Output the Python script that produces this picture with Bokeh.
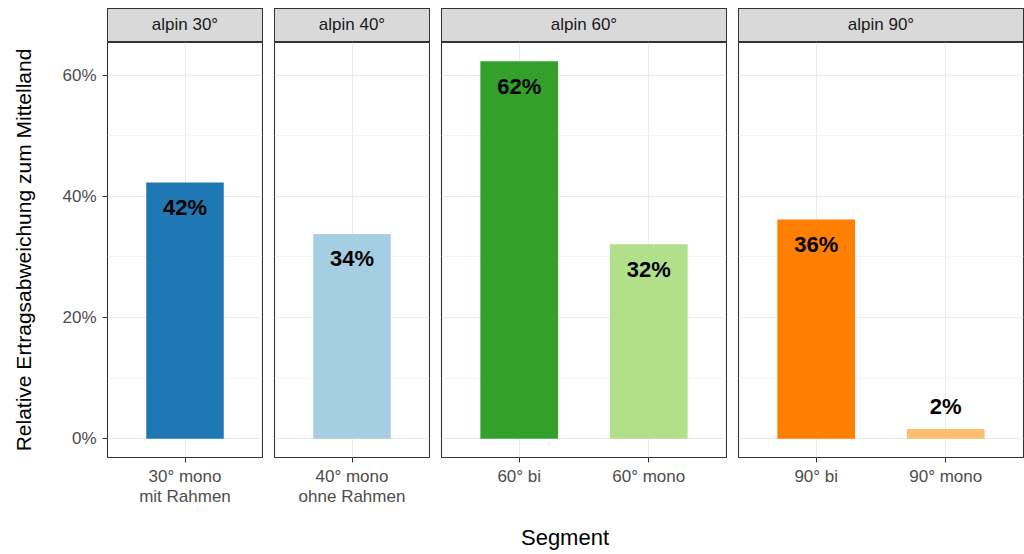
from bokeh.plotting import figure
from bokeh.models import ColumnDataSource, Range1d, FixedTicker, NumeralTickFormatter, Div, FactorRange
from bokeh.layouts import row, column
from bokeh.core.properties import value
from bokeh.embed import file_html
from bokeh.resources import INLINE

# ---- data ----
panels = ["alpin 30°", "alpin 40°", "alpin 60°", "alpin 90°"]
facet = ["alpin 30°", "alpin 40°", "alpin 60°", "alpin 60°", "alpin 90°", "alpin 90°"]
segments = ["30° mono\nmit Rahmen", "40° mono\nohne Rahmen", "60° bi", "60° mono", "90° bi", "90° mono"]
values = [0.423, 0.338, 0.623, 0.321, 0.362, 0.016]
labels = ["42%", "34%", "62%", "32%", "36%", "2%"]
colors = ["#1F78B4", "#A6CEE3", "#33A02C", "#B2DF8A", "#FF7F00", "#FDBF6F"]
y_ticks = [0, 0.2, 0.4, 0.6]
y_minor = [0.1, 0.3, 0.5]

FONT = "Liberation Sans"
UNIT = 129.5
FRAME_H = 415
LEFT = 107

cols = []
for i, name in enumerate(panels):
    idx = [k for k, f in enumerate(facet) if f == name]
    cats = [segments[k] for k in idx]
    vals = [values[k] for k in idx]
    src = ColumnDataSource(dict(
        x=cats, top=vals, label=[labels[k] for k in idx], color=[colors[k] for k in idx],
        off=[25 if v > 0.05 else -23 for v in vals],
    ))
    fw = int(round((len(cats) + 0.2) * UNIT))
    ml = LEFT if i == 0 else 1
    p = figure(x_range=FactorRange(*cats, range_padding=0.1, range_padding_units="absolute"),
               y_range=Range1d(-0.031, 0.654),
               frame_width=fw, frame_height=FRAME_H,
               min_border_left=ml, min_border_right=1, min_border_top=0, min_border_bottom=58,
               output_backend="svg", toolbar_location=None,
               background_fill_color="white", border_fill_color="white")
    p.outline_line_color = "#333333"
    p.outline_line_width = 1.1
    p.outline_line_alpha = 1

    p.vbar(x="x", top="top", bottom=0, width=0.6, fill_color="color", line_color=None, source=src)
    p.text(x="x", y="top", text="label", y_offset="off", source=src,
           text_align="center", text_baseline="middle",
           text_font=value(FONT), text_font_style="bold", text_font_size="22px", text_color="black")

    p.yaxis.ticker = FixedTicker(ticks=y_ticks, minor_ticks=y_minor)
    p.yaxis.formatter = NumeralTickFormatter(format="0%")
    for ax in (p.xaxis, p.yaxis):
        ax.axis_line_color = None
        ax.major_tick_line_color = "#333333"
        ax.major_tick_in = 0
        ax.major_tick_out = 5
        ax.minor_tick_out = 0
        ax.minor_tick_in = 0
        ax.major_label_standoff = 6
        ax.major_label_text_font = FONT
        ax.major_label_text_font_size = "17px"
        ax.major_label_text_color = "#4D4D4D"
    p.xaxis.major_label_standoff = 4
    p.xaxis.major_label_text_line_height = 1.1
    p.xaxis.major_label_orientation = "horizontal"
    if i == 0:
        p.yaxis.axis_label = "Relative Ertragsabweichung zum Mittelland"
        p.yaxis.axis_label_text_font = FONT
        p.yaxis.axis_label_text_font_size = "21px"
        p.yaxis.axis_label_text_font_style = "normal"
        p.yaxis.axis_label_text_color = "black"
        p.yaxis.axis_label_standoff = 24
    else:
        p.yaxis.visible = False

    p.xgrid.grid_line_color = "#EBEBEB"
    p.xgrid.grid_line_width = 1
    p.ygrid.grid_line_color = "#EBEBEB"
    p.ygrid.grid_line_width = 1
    p.ygrid.minor_grid_line_color = "#F3F3F3"
    p.ygrid.minor_grid_line_width = 1

    strip = Div(text=name, width=fw + 1, height=34, margin=(0, 0, 0, ml),
                styles={"background-color": "#D9D9D9", "border": "1px solid #333333",
                        "box-sizing": "border-box", "text-align": "center",
                        "line-height": "32px", "font-family": FONT, "font-size": "17px",
                        "color": "#1A1A1A", "overflow": "hidden"})
    cols.append(column(strip, p, spacing=0))

panel_row = row(*cols, spacing=10)
xtitle = Div(text="Segment", width=902, height=29, margin=(0, 0, 0, 114),
             styles={"text-align": "center", "font-family": FONT, "font-size": "22px",
                     "color": "black", "line-height": "22px", "padding-top": "12px",
                     "box-sizing": "border-box"})
layout = column(panel_row, xtitle, spacing=0, margin=(8, 0, 0, 0))

open("out.html", "w").write(file_html(layout, INLINE))
